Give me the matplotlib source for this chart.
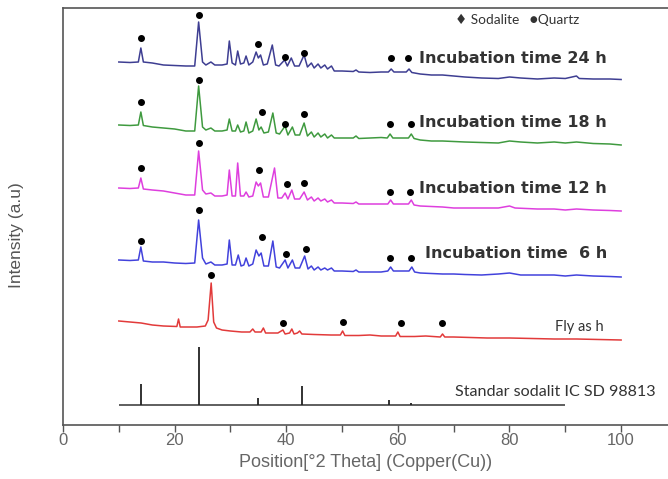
import matplotlib
matplotlib.use("Agg")
import matplotlib.pyplot as plt
from matplotlib.ticker import MultipleLocator

# ---------------- data (intensity in arbitrary units, offset per pattern) ----------------
x_24h = [10, 12, 13.5, 13.95, 14.4, 16, 18, 20, 22, 23.6, 24.3, 25, 25.6, 26.5, 27.2,
         28.5, 29.4, 29.8, 30.3, 30.9, 31.3, 31.8, 32.4, 32.8, 33.3, 34, 34.6, 35.0, 35.4, 35.9,
         36.6, 37.5, 38.1, 38.7, 39.7, 40.2, 40.9, 41.5, 42.3, 43.2, 43.8, 44.5, 45.0, 45.7, 46.2,
         46.9, 47.4, 48.1, 48.6, 50, 52, 52.5, 53, 55, 57, 58.3, 58.8, 59.3, 61.5, 62.0,
         62.5, 64, 66, 68, 70, 72, 75, 78, 80, 82, 85, 88, 90, 92, 92.5, 95, 98, 100]
y_24h = [363, 362.5, 363, 377, 363, 362, 360, 359.5, 359, 359, 403, 363, 360, 363, 360,
         360, 361, 384, 362, 360, 374, 361, 362, 369, 360, 363, 373, 367, 370, 360,
         361, 380, 360, 359, 365, 359, 367, 359, 359, 370, 358, 362, 357, 361, 357,
         360, 356, 359, 354, 354, 353.5, 355, 353, 352.5, 353, 353, 356, 353, 353, 356,
         352.5, 351, 350, 350, 349, 348, 347, 346.5, 348, 347, 346, 347, 346.5, 349, 346.5, 346, 346, 345.5]

x_18h = [10, 12, 13.5, 13.95, 14.4, 16, 18, 20, 22, 23.6, 24.3, 25, 25.6, 26.5, 27.2,
         28.5, 29.4, 29.8, 30.3, 30.9, 31.3, 31.8, 32.4, 32.8, 33.3, 34, 34.6, 35.1, 35.5, 36.0,
         36.8, 37.6, 38.2, 38.8, 39.8, 40.3, 41.1, 41.6, 42.4, 43.2, 43.8, 44.5, 45.0, 45.7, 46.2,
         46.9, 47.4, 48.1, 48.6, 50, 52, 52.5, 53, 55, 57, 58.1, 58.6, 59.1, 61.9, 62.4,
         62.9, 64, 66, 68, 70, 72, 75, 78, 80, 82, 85, 88, 90, 92, 95, 98, 100]
y_18h = [300, 299.5, 300, 313, 299.5, 298, 297, 296, 294, 294, 339, 298, 295, 297, 294,
         294, 295, 306, 294, 294, 300, 293, 294, 303, 292, 294, 306, 295, 298, 292,
         293, 312, 292, 291, 299, 290, 298, 290, 290, 302, 289, 293, 288, 292, 288,
         291, 287, 290, 287, 287, 287, 289, 286.5, 287, 287.5, 287, 291, 287, 287, 291,
         286.5, 285, 284, 284, 283.5, 283, 282.5, 282, 284, 283, 282, 283, 282, 283, 281.5, 281, 280]

x_12h = [10, 12, 13.5, 13.95, 14.4, 16, 18, 20, 22, 23.6, 24.3, 25, 25.6, 26.5, 27.2,
         28.5, 29.4, 29.8, 30.3, 30.9, 31.3, 31.8, 32.4, 32.8, 33.3, 34, 34.6, 35.0, 35.4, 35.9,
         36.8, 37.9, 38.5, 39.2, 39.8, 40.3, 41.0, 41.5, 42.4, 43.2, 43.8, 44.5, 45.0, 45.7, 46.2,
         46.9, 47.4, 48.1, 48.6, 50, 52, 52.5, 53, 55, 57, 58.2, 58.7, 59.2, 61.9, 62.4,
         62.9, 64, 66, 68, 70, 72, 75, 78, 80, 81, 85, 88, 90, 92, 95, 98, 100]
y_12h = [237, 236.5, 237, 247, 236, 235, 234, 232, 230, 230, 274, 235, 231, 232, 229,
         229, 230, 255, 229, 229, 262, 229, 229, 233, 228, 229, 243, 239, 242, 228,
         228, 257, 227, 227, 232, 226, 235, 226, 226, 233, 225, 228, 224, 227, 224,
         226, 223, 225, 222, 222, 221.5, 223, 221, 221, 221, 221, 225, 221, 221, 225,
         220, 219, 218.5, 218, 217, 217, 217, 217, 219, 217, 216, 216, 215, 216, 215, 214.5, 214]

x_6h = [10, 12, 13.5, 13.95, 14.4, 16, 18, 20, 22, 23.6, 24.3, 25, 25.6, 26.5, 27.2,
        28.5, 29.4, 29.8, 30.3, 30.9, 31.4, 31.9, 32.4, 32.8, 33.3, 34, 34.6, 35.1, 35.5, 36.0,
        36.8, 37.6, 38.2, 38.8, 39.8, 40.3, 41.1, 41.6, 42.4, 43.3, 43.9, 44.5, 45.0, 45.7, 46.2,
        46.9, 47.4, 48.1, 48.6, 50, 52, 52.5, 53, 55, 57, 58.2, 58.7, 59.2, 62.0, 62.5,
        63.0, 64, 66, 68, 70, 72, 75, 78, 80, 82, 85, 88, 90, 92, 95, 98, 100]
y_6h = [165, 164.5, 165, 178, 164, 163, 163, 162, 161.5, 162, 205, 167, 161, 163, 160,
        160, 161, 185, 160, 160, 170, 159, 160, 167, 159, 161, 175, 169, 172, 159,
        159, 184, 158, 157, 165, 157, 165, 157, 157, 169, 156, 159, 155, 158, 155,
        157, 155, 157, 154, 154, 153.5, 155, 153, 153, 153, 154, 158, 154, 154, 158,
        153, 152, 151.5, 151, 151, 150.5, 150, 151, 152, 150, 150, 150, 149, 150, 149, 148.5, 148]

x_fly = [10, 12, 14, 16, 18, 20.4, 20.7, 21.0, 22, 24, 25.5, 26.0, 26.55, 27.0, 27.5,
         28.5, 30, 32, 33.5, 34.0, 34.4, 35.5, 35.9, 36.3, 37.5, 38.5, 39.4, 39.8, 40.6, 41.0,
         41.4, 42.0, 42.4, 42.8, 45, 48, 49.7, 50.1, 50.5, 53, 55, 57, 59.6, 60.0, 60.4,
         63, 65, 67.6, 68.0, 68.4, 70, 73, 76, 80, 84, 88, 92, 96, 100]
y_fly = [104, 103, 102, 100, 99, 98.5, 106, 98, 98, 98, 99, 105, 142, 103, 97,
         95, 94, 93, 93, 96, 93, 93, 97, 92, 92, 92, 95, 91, 92, 96,
         91, 92, 94, 91, 90.5, 90, 90, 94, 89.5, 89.5, 90, 89, 89, 93, 88.5,
         88.5, 89, 88, 91, 88, 88, 87.5, 87, 87, 86.5, 86, 86, 85.5, 85]

std_range = [10, 90]
std_base = 20
std_pos = [14.0, 24.4, 34.9, 42.8, 58.4, 62.3]
std_top = [41, 78, 27, 39, 25, 22]

dots_24h_x = [13.95, 24.3, 35.0, 39.8, 43.2, 58.8, 61.9]
dots_24h_y = [387, 410, 380.7, 368.3, 372.3, 367.3, 367.3]
dots_18h_x = [13.95, 24.3, 35.7, 39.8, 43.2, 58.6, 62.4]
dots_18h_y = [323.3, 345, 313.3, 301, 311, 300.7, 300.7]
dots_12h_x = [13.95, 24.3, 35.1, 40.1, 43.2, 58.6, 62.1]
dots_12h_y = [256.7, 281.7, 255, 240.7, 241.7, 233.3, 233.3]
dots_6h_x = [13.95, 24.3, 35.6, 40.0, 43.5, 58.6, 62.4]
dots_6h_y = [184.3, 215, 187.7, 171, 175.7, 166.7, 166.7]
dots_fly_x = [26.55, 39.4, 50.1, 60.5, 67.9]
dots_fly_y = [150, 102, 103, 102, 102]

labels = ["Incubation time 24 h", "Incubation time 18 h", "Incubation time 12 h",
          "Incubation time  6 h"]
label_y = [367, 303, 237, 172]
xticks = [0, 20, 40, 60, 80, 100]

# ---------------- figure ----------------
fig = plt.figure(figsize=(6.68, 4.79), dpi=100)
ax = fig.add_axes([63 / 668, 1 - 425 / 479, 1 - 63 / 668, (425 - 8) / 479])
ax.set_xlim(0, 108.4)
ax.set_ylim(0, 417)

lw = 1.1
ax.plot(x_24h, y_24h, color="#3e3e92", lw=lw)
ax.plot(x_18h, y_18h, color="#3f9a3f", lw=lw)
ax.plot(x_12h, y_12h, color="#de3fde", lw=lw)
ax.plot(x_6h, y_6h, color="#4242dc", lw=lw)
ax.plot(x_fly, y_fly, color="#e23a3a", lw=lw)

ax.hlines(std_base, std_range[0], std_range[1], color="#333333", lw=1.1)
ax.vlines(std_pos, std_base, std_top, color="#222222", lw=1.3)

for dx, dy in [(dots_24h_x, dots_24h_y), (dots_18h_x, dots_18h_y), (dots_12h_x, dots_12h_y),
               (dots_6h_x, dots_6h_y), (dots_fly_x, dots_fly_y)]:
    ax.plot(dx, dy, "o", color="black", ms=4.0, ls="none")

lab_font = dict(family=["DejaVu Sans"], fontsize=11.5, fontweight="bold", color="#333333")
for t, yy in zip(labels, label_y):
    ax.text(97.5, yy, t, ha="right", va="center", **lab_font)
ax.text(96.8, 98, "Fly as h", ha="right", va="center",
        family=["Lato", "DejaVu Sans"], fontsize=10.5, color="#333333")
ax.text(106.1, 33, "Standar sodalit IC SD 98813", ha="right", va="center",
        family=["Lato", "DejaVu Sans"], fontsize=11.6, color="#333333")
ax.text(70.2, 405, "\u2666 Sodalite   \u25cfQuartz", ha="left", va="center",
        family=["Lato", "DejaVu Sans"], fontsize=9.8, color="#333333")

# axes styling
ax.spines["right"].set_visible(False)
for s in ["left", "bottom", "top"]:
    ax.spines[s].set_color("#555555")
    ax.spines[s].set_linewidth(1.2)
ax.set_yticks([])
ax.set_xticks(xticks)
ax.xaxis.set_minor_locator(MultipleLocator(10))
ax.tick_params(axis="x", which="both", direction="out", length=5, width=1, color="#555555",
               labelsize=12, labelcolor="#666666", pad=1)
for lab in ax.get_xticklabels():
    lab.set_family(["Liberation Sans", "DejaVu Sans"])
ax.set_xlabel("Position[\u00b02 Theta] (Copper(Cu))", family=["Liberation Sans", "DejaVu Sans"],
              fontsize=13, color="#666666", labelpad=4)
ax.set_ylabel("Intensity (a.u)", family=["Liberation Sans", "DejaVu Sans"],
              fontsize=12.5, color="#555555")
ax.yaxis.set_label_coords(-0.064, 0.455)

fig.savefig("out.png", dpi=100)
